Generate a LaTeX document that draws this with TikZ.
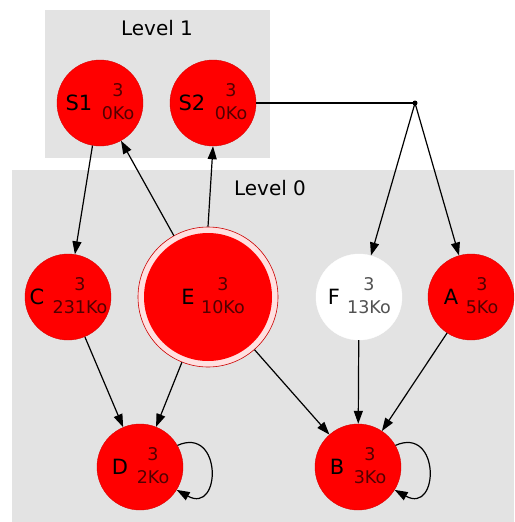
\documentclass[tikz,border=0pt]{standalone}
\usepackage{fontspec}
\setmainfont{DejaVu Sans}
\usetikzlibrary{arrows.meta,calc}
\definecolor{clus}{RGB}{227,227,227}
\definecolor{nred}{RGB}{255,0,0}
\tikzset{
  x=1pt,y=-1pt,
  vtx/.style={circle,minimum size=86pt,inner sep=0pt,fill=nred,draw=nred!85!black,line width=0.4pt},
  wvtx/.style={circle,minimum size=86pt,inner sep=0pt,fill=white,draw=white},
  nm/.style={inner sep=0pt,font=\fontsize{21}{21}\selectfont,text=black},
  inf/.style={inner sep=0pt,font=\fontsize{17.5}{18}\selectfont,text=black,text opacity=0.68},
  cl/.style={inner sep=0pt,font=\fontsize{20}{20}\selectfont},
  edge/.style={line width=1.2pt,-{Triangle[length=13pt,width=9pt]}},
}
\newcommand{\lbls}[4]{%
  \node[nm] (#1n) at ($(#1)+(#2,0)$) {#1};
  \node[inf] (#1a) at ($(#1)+(#3,-13)$) {3};
  \node[inf] (#1b) at ($(#1)+(#3,10)$) {#4};}
\begin{document}
\begin{tikzpicture}
\useasboundingbox (0,0) rectangle (514,522);
\fill[white] (0,0) rectangle (514,522);
\fill[clus] (45,10) rectangle (270,158);
\fill[clus] (12,170) rectangle (514,522);
\node[cl] (L1) at (157,28) {Level 1};
\node[cl] (L0) at (270,188) {Level 0};
% nodes
\node[vtx] (S1) at (100,103) {};
\node[vtx] (S2) at (213,103) {};
\node[vtx] (C) at (68,297) {};
\node[circle,minimum size=140pt,inner sep=0pt,fill=white!88!red,draw=nred!80!black,line width=0.6pt] (E) at (208,297) {};
\node[circle,minimum size=128pt,inner sep=0pt,fill=nred] (Ein) at (208,297) {};
\node[wvtx] (F) at (359,297) {};
\node[vtx] (A) at (471,297) {};
\node[vtx] (D) at (140,467) {};
\node[vtx] (B) at (358,467) {};
\node[circle,fill=black,inner sep=0pt,minimum size=5pt] (P) at (415,103) {};
% labels
\lbls{S1}{-21}{18}{0Ko}
\lbls{S2}{-21}{18}{0Ko}
\lbls{C}{-31}{12}{231Ko}
\lbls{E}{-20}{15}{10Ko}
\lbls{F}{-25}{10}{13Ko}
\lbls{A}{-20}{11}{5Ko}
\lbls{D}{-20}{13}{2Ko}
\lbls{B}{-21}{12}{3Ko}
% edges
\draw[edge] (S1.-100) -- (C);
\draw[edge] (E) -- (S1);
\draw[edge] (E.90) -- (S2.-90);
\draw[line width=1.2pt] (S2.east) -- (P.center);
\draw[edge] (P.center) -- (F);
\draw[edge] (P.center) -- (A);
\draw[edge] (C) -- (D);
\draw[edge] (E) -- (D);
\draw[edge] (E) -- (B);
\draw[edge] (F) -- (B);
\draw[edge] (A) -- (B);
\draw[edge] (D.30) .. controls +(45,-20) and +(45,25) .. (D.-32);
\draw[edge] (B.30) .. controls +(45,-20) and +(45,25) .. (B.-32);
\end{tikzpicture}
\end{document}
